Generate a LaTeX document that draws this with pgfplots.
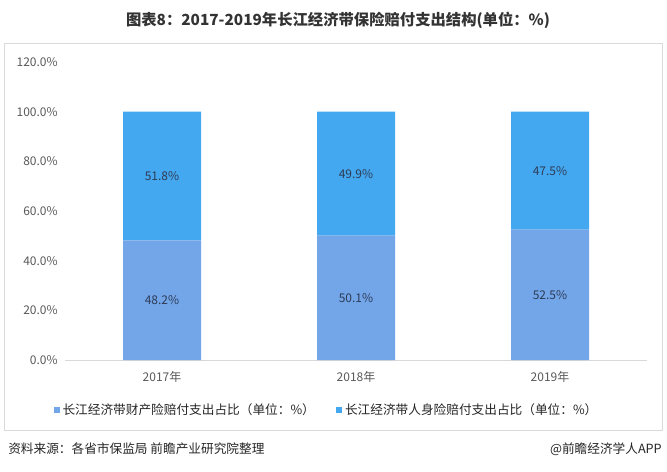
\documentclass[border=0pt]{standalone}
\usepackage{pgfplots}
\pgfplotsset{compat=1.18}
\usepackage{fontspec}
\setmainfont{Noto Sans CJK SC}
\definecolor{lowc}{HTML}{72A6E9}
\definecolor{upc}{HTML}{44A8F0}
\definecolor{tickc}{HTML}{595959}
\definecolor{labc}{HTML}{2E3B55}
\definecolor{framec}{HTML}{D9D9D9}
\begin{document}
\begin{tikzpicture}
\begin{scope}[x=0.75pt,y=0.75pt]
\useasboundingbox (0,0) rectangle (667,471);
\fill[white] (0,0) rectangle (667,471);
\draw[framec,line width=0.75pt] (4,41) rectangle (662,427);
\node[font=\bfseries\fontsize{11.5}{13}\selectfont,text=black!80] at (338,451) {图表8：2017-2019年长江经济带保险赔付支出结构(单位：\%)};
\node[anchor=west,font=\fontsize{9.5}{11}\selectfont,text=black!85,inner sep=0pt] at (8,22) {资料来源：各省市保监局 前瞻产业研究院整理};
\node[anchor=east,font=\fontsize{9.5}{11}\selectfont,text=black!85,inner sep=0pt] at (662,22) {@前瞻经济学人APP};
\end{scope}
\begin{axis}[
  at={(48.75pt,83.25pt)}, anchor=south west,
  width=436.5pt, height=223.5pt, scale only axis,
  ybar stacked, bar width=58.5pt,
  xmin=-0.5, xmax=2.5, ymin=0, ymax=120,
  xtick={0,1,2}, xticklabels={2017年,2018年,2019年},
  ytick={0,20,40,60,80,100,120},
  yticklabels={0.0\%,20.0\%,40.0\%,60.0\%,80.0\%,100.0\%,120.0\%},
  axis y line=left, axis x line=bottom,
  y axis line style={draw=none},
  x axis line style={draw=framec,line width=0.75pt,-},
  major tick length=0pt,
  tick label style={font=\fontsize{9}{10}\selectfont,text=tickc},
  yticklabel style={xshift=-2pt},
  xticklabel style={yshift=-5pt},
  /pgf/number format/assume math mode=true,
  nodes near coords={\pgfmathprintnumber[fixed,fixed zerofill,precision=1]{\pgfplotspointmeta}\%},
  every node near coord/.append style={font=\fontsize{9}{10}\selectfont,text=labc,anchor=center},
  legend style={at={(0.45,-0.168)},anchor=center,draw=none,legend columns=2,
     font=\fontsize{9.5}{11}\selectfont,text=black!85,
     /tikz/every even column/.append style={column sep=14pt}},
  legend image code/.code={\fill[#1] (0pt,-2.3pt) rectangle (4.6pt,2.3pt);},
]
\addplot[fill=lowc,draw=none] coordinates {(0,48.2) (1,50.1) (2,52.5)};
\addplot[fill=upc,draw=none] coordinates {(0,51.8) (1,49.9) (2,47.5)};
\legend{长江经济带财产险赔付支出占比（单位：\%）,长江经济带人身险赔付支出占比（单位：\%）}
\end{axis}
\end{tikzpicture}
\end{document}
